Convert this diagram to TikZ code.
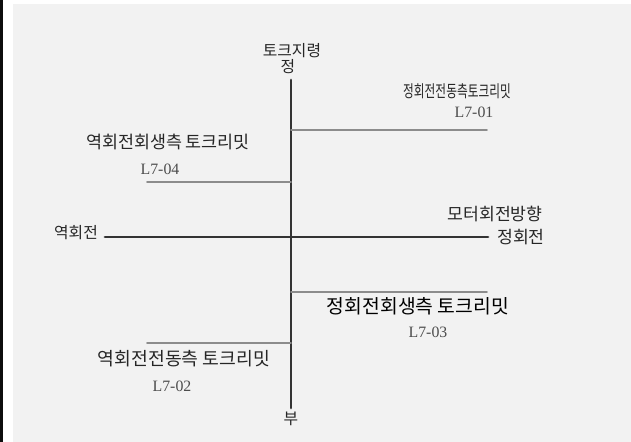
\documentclass[tikz,border=0pt]{standalone}
\usepackage{fontspec}
\newfontfamily\kr{Noto Sans CJK KR}
\newfontfamily\sr{Liberation Serif}
\begin{document}
\begin{tikzpicture}[x=0.2mm,y=-0.2mm,line join=round,line cap=round,
	axis/.style={draw=black!80,line width=1.6pt},
	limit/.style={draw=black!45,line width=1.1pt},
	lbl/.style={inner sep=0pt,text=black!85,font=\kr\fontsize{9}{10}\selectfont},
	code/.style={inner sep=0pt,text=black!70,font=\sr\fontsize{9}{10}\selectfont}]
	\def\ox{291} \def\oy{237} % origin
	\def\xl{105} \def\xr{488} \def\yt{80} \def\yb{408} % axis ends
	\useasboundingbox (0,0) rectangle (631,442);
	% scan background
	\fill[white] (0,0) rectangle (631,442);
	\fill[black!95] (0,0) rectangle (3,442);
	\fill[black!5] (13,4) rectangle (631,442);
	% axes
	\coordinate (top) at (\ox,\yt); \coordinate (bot) at (\ox,\yb);
	\coordinate (lft) at (\xl,\oy); \coordinate (rgt) at (\xr,\oy);
	\draw[axis] (top)--(bot);
	\draw[axis] (lft)--(rgt);
	\node[lbl] (tq) at (292,51) {토크지령};
	\node[lbl] (pos) at (288,67) {정};
	\node[lbl] (neg) at (291,419) {부};
	\node[lbl] (rev) at (76,233) {역회전};
	\node[lbl,font=\kr\fontsize{9.8}{10}\selectfont] (dir) at (495,214) {모터회전방향};
	\node[lbl,font=\kr\fontsize{9.8}{10}\selectfont] (fwd) at (521,237) {정회전};
	% torque limits
	\coordinate (a1) at (\ox,130); \coordinate (b1) at (487,130);
	\coordinate (a4) at (\ox,182); \coordinate (b4) at (147,182);
	\coordinate (a3) at (\ox,292); \coordinate (b3) at (487,292);
	\coordinate (a2) at (\ox,343); \coordinate (b2) at (147,343);
	\draw[limit] (a1)--(b1); \draw[limit] (a4)--(b4);
	\draw[limit] (a3)--(b3); \draw[limit] (a2)--(b2);
	\node[lbl,xscale=0.7,font=\kr\fontsize{9.5}{10}\selectfont] (t1) at (457,91) {정회전전동측토크리밋};
	\node[code] (c1) at (474,112) {L7-01};
	\node[lbl,font=\kr\fontsize{9.9}{10}\selectfont] (t4) at (168,142) {역회전회생측 토크리밋};
	\node[code] (c4) at (160,169) {L7-04};
	\node[lbl,text=black,font=\kr\fontsize{11}{12}\selectfont] (t3) at (418,306) {정회전회생측 토크리밋};
	\node[code] (c3) at (428,332) {L7-03};
	\node[lbl,font=\kr\fontsize{10.4}{12}\selectfont] (t2) at (184,359) {역회전전동측 토크리밋};
	\node[code] (c2) at (172,386) {L7-02};
\end{tikzpicture}
\end{document}
